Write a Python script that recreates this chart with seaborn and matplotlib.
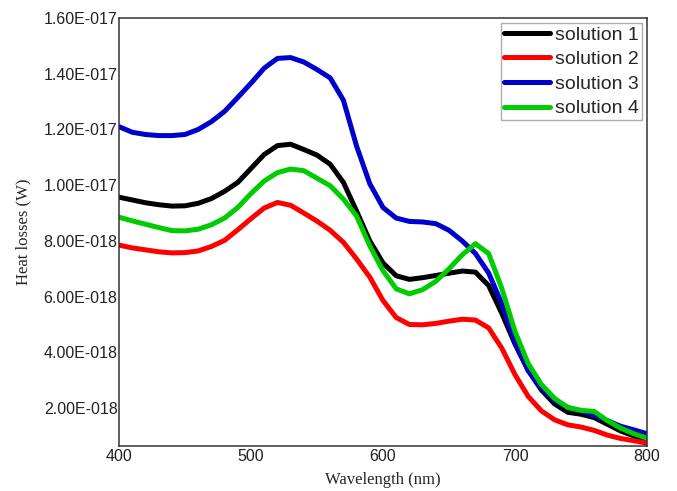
import math
import numpy as np
import pandas as pd
import matplotlib
matplotlib.use("Agg")
import matplotlib.pyplot as plt
from matplotlib.ticker import FuncFormatter, MultipleLocator
import seaborn as sns

# Wavelength grid (nm)
wavelength = list(range(400, 801, 10))

# Heat losses in units of 1e-18 W
solution_1 = [9.57, 9.47, 9.37, 9.30, 9.25, 9.26, 9.35, 9.52, 9.78, 10.10,
              10.60, 11.10, 11.42, 11.47, 11.28, 11.08, 10.75, 10.10, 9.07, 8.00,
              7.21, 6.75, 6.62, 6.68, 6.76, 6.84, 6.92, 6.88, 6.40, 5.40,
              4.30, 3.35, 2.65, 2.15, 1.85, 1.78, 1.66, 1.42, 1.18, 1.00, 0.85]
solution_2 = [7.85, 7.75, 7.68, 7.61, 7.57, 7.58, 7.64, 7.80, 8.02, 8.40,
              8.80, 9.18, 9.38, 9.28, 9.00, 8.71, 8.38, 7.95, 7.35, 6.70,
              5.86, 5.25, 5.00, 4.99, 5.04, 5.12, 5.19, 5.16, 4.88, 4.15,
              3.20, 2.42, 1.90, 1.58, 1.40, 1.32, 1.20, 1.03, 0.91, 0.83, 0.74]
solution_3 = [12.10, 11.90, 11.82, 11.78, 11.78, 11.82, 12.00, 12.28, 12.65, 13.15,
              13.66, 14.20, 14.55, 14.58, 14.42, 14.15, 13.85, 13.05, 11.40, 10.05,
              9.20, 8.82, 8.70, 8.68, 8.62, 8.38, 8.00, 7.55, 6.85, 5.75,
              4.35, 3.35, 2.72, 2.28, 2.02, 1.90, 1.75, 1.55, 1.35, 1.22, 1.08]
solution_4 = [8.85, 8.72, 8.60, 8.48, 8.37, 8.36, 8.42, 8.58, 8.82, 9.20,
              9.70, 10.15, 10.45, 10.58, 10.52, 10.25, 9.98, 9.50, 8.89, 7.82,
              6.93, 6.28, 6.10, 6.25, 6.55, 7.00, 7.50, 7.90, 7.55, 6.30,
              4.75, 3.60, 2.85, 2.35, 2.02, 1.92, 1.88, 1.55, 1.28, 1.08, 0.92]

series_names = ["solution 1", "solution 2", "solution 3", "solution 4"]
series_values = [solution_1, solution_2, solution_3, solution_4]
series_colors = ["#000000", "#ff0000", "#0000cc", "#00cc00"]

x_ticks = [400, 500, 600, 700, 800]

frames = []
for name, vals in zip(series_names, series_values):
    frames.append(pd.DataFrame({
        "Wavelength": wavelength,
        "Heat": np.array(vals) * 1e-18,
        "Series": name,
    }))
df = pd.concat(frames, ignore_index=True)

sns.set_style("white")
plt.rcParams["font.family"] = ["Liberation Sans", "DejaVu Sans"]

fig = plt.figure(figsize=(6.77, 4.91), dpi=100)
ax = fig.add_axes([119 / 677, 1 - 446 / 491, (647 - 119) / 677, (446 - 18) / 491])

sns.lineplot(data=df, x="Wavelength", y="Heat", hue="Series",
             hue_order=series_names, palette=series_colors,
             linewidth=3.6, ax=ax, sort=False, estimator=None)

ax.set_xlim(400, 800)
ax.set_ylim(0.64e-18, 1.6e-17)
ax.set_xticks(x_ticks)
ax.yaxis.set_major_locator(MultipleLocator(2e-18))


def sci_label(v, pos):
    if v <= 0:
        return ""
    e = int(math.floor(math.log10(v) + 1e-9))
    m = v / 10 ** e
    return f"{m:.2f}E{e:+04d}"


ax.yaxis.set_major_formatter(FuncFormatter(sci_label))
ax.tick_params(axis="both", length=0, labelsize=11.5, colors="#222222")
ax.tick_params(axis="x", pad=2)
ax.tick_params(axis="y", pad=1)

for sp in ax.spines.values():
    sp.set_visible(True)
    sp.set_color("#333333")
    sp.set_linewidth(1.1)

ax.set_xlabel("Wavelength (nm)", family=["Liberation Serif"], fontsize=12, labelpad=6)
ax.set_ylabel("Heat losses (W)", family=["Liberation Serif"], fontsize=12, labelpad=9)

leg = ax.legend(loc="upper right", bbox_to_anchor=(1 - 5 / 528, 1 - 5 / 428),
                borderaxespad=0, fontsize=14, frameon=True, fancybox=False,
                handlelength=2.4, handletextpad=0.25, labelspacing=0.36,
                borderpad=0.15)
leg.get_frame().set_edgecolor("#999999")
leg.get_frame().set_linewidth(1.0)
for line in leg.get_lines():
    line.set_linewidth(3.6)

fig.savefig("out.png", dpi=100)
